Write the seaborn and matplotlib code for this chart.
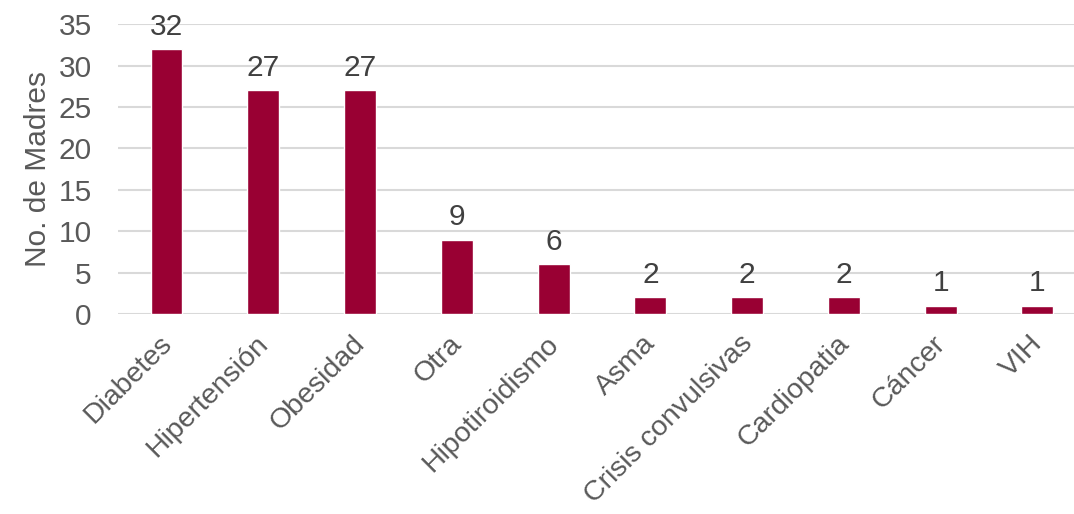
import pandas as pd
import seaborn as sns
import matplotlib.pyplot as plt
from matplotlib.transforms import ScaledTranslation

sns.set_theme(style="white")
plt.rcParams['font.family'] = ['Liberation Sans', 'DejaVu Sans']

categorias = ["Diabetes", "Hipertensión", "Obesidad", "Otra", "Hipotiroidismo",
              "Asma", "Crisis convulsivas", "Cardiopatia", "Cáncer", "VIH"]
madres = [32, 27, 27, 9, 6, 2, 2, 2, 1, 1]
y_ticks = [0, 5, 10, 15, 20, 25, 30, 35]

df = pd.DataFrame({"categoria": categorias, "madres": madres})

fig = plt.figure(figsize=(10.74, 5.14), dpi=100)
ax = fig.add_axes([0.110, 0.389, 0.901, 0.564])

sns.barplot(df, x="categoria", y="madres", color="#990033", width=0.33,
            saturation=1, ax=ax, zorder=3)

ax.set_ylim(0, 35)
ax.set_yticks(y_ticks)
ax.set_xlim(-0.5, len(categorias) - 0.5)
ax.grid(axis="y", color="#d9d9d9", linewidth=1.5, zorder=0)
ax.set_axisbelow(True)
for s in ax.spines.values():
    s.set_visible(False)
ax.tick_params(axis="both", length=0, colors="#595959", labelsize=21.5)
ax.tick_params(axis="x", labelsize=20.5, pad=4)
ax.tick_params(axis="y", pad=19)
plt.setp(ax.get_xticklabels(), rotation=45, ha="right", rotation_mode="anchor")
# nudge the rotated labels a bit left/down like the original
shift = ScaledTranslation(-8 / 100, -11 / 100, fig.dpi_scale_trans)
for lab in ax.get_xticklabels():
    lab.set_transform(lab.get_transform() + shift)
ax.set_xlabel("")
ax.set_ylabel("No. de Madres", fontsize=21.5, color="#595959", labelpad=5)

for c in ax.containers:
    ax.bar_label(c, padding=6, fontsize=21.5, color="#404040")

fig.savefig("out.png", dpi=100, facecolor="white")
